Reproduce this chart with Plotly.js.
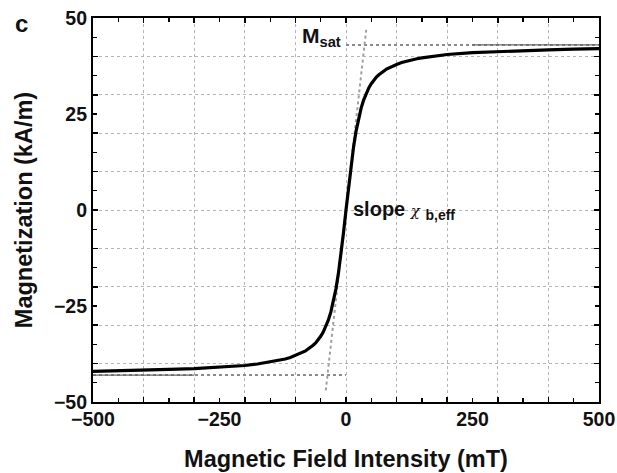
<!DOCTYPE html>
<html>
<head>
<meta charset="utf-8">
<script src="https://cdn.plot.ly/plotly-3.0.1.min.js"></script>
<style>html,body{margin:0;padding:0;background:#fff;}#chart{width:617px;height:473px;}</style>
</head>
<body>
<div id="chart"></div>
<script>
// Magnetization curve (H in mT, M in kA/m)
const fieldH = [-500,-450,-400,-350,-300,-250,-200,-175,-160,-150,-140,-125,-120,-110,-100,-90,-80,-75,-70,-65,-60,-55,-50,-45,-40,-35,-30,-25,-20,-15,-10,-5,0,
                5,10,15,20,25,30,35,40,45,50,55,60,65,70,75,80,90,100,110,120,125,140,150,160,175,200,250,300,350,400,450,500];
const magM = [-42.0,-41.9,-41.7,-41.5,-41.3,-41.0,-40.5,-40.1,-39.8,-39.6,-39.4,-38.9,-38.8,-38.4,-37.9,-37.4,-36.7,-36.2,-35.8,-35.2,-34.6,-33.8,-32.9,-31.8,-30.4,-28.7,-26.6,-24.0,-20.6,-16.5,-11.6,-6.0,0,
              6.0,11.6,16.5,20.6,24.0,26.6,28.7,30.4,31.8,32.9,33.8,34.6,35.2,35.8,36.2,36.7,37.4,37.9,38.4,38.8,38.9,39.4,39.6,39.8,40.1,40.5,41.0,41.3,41.5,41.7,41.9,42.0];
// Initial-slope guide line
const slopeH = [-40, 40];
const slopeM = [-47, 47];
// Saturation guide lines
const satLevel = 43;
const satUpperH = [0, 500];
const satLowerH = [-500, 0];
const satUpperDarkH = [250, 500];
const satLowerDarkH = [-500, -300];
// Axis ticks
const xTickVals = [-500, -250, 0, 250, 500];
const xTickText = ['\u2212500', '\u2212250', '0', '250', '500'];
const yTickVals = [-50, -25, 0, 25, 50];
const yTickText = ['\u221250', '\u221225', '0', '25', '50'];

const FONT = 'Liberation Sans, Arial, Helvetica, sans-serif';

const traces = [
  {x: satUpperH, y: satUpperH.map(() => satLevel), mode: 'lines', line: {color: '#8a8a8a', width: 2, dash: 'dot'}, hoverinfo: 'skip'},
  {x: satLowerH, y: satLowerH.map(() => -satLevel), mode: 'lines', line: {color: '#8a8a8a', width: 2, dash: 'dot'}, hoverinfo: 'skip'},
  {x: satUpperDarkH, y: satUpperDarkH.map(() => satLevel), mode: 'lines', line: {color: '#666', width: 1.2}, hoverinfo: 'skip'},
  {x: satLowerDarkH, y: satLowerDarkH.map(() => -satLevel), mode: 'lines', line: {color: '#666', width: 1.2}, hoverinfo: 'skip'},
  {x: slopeH, y: slopeM, mode: 'lines', line: {color: '#a0a0a0', width: 2, dash: 'dot'}, hoverinfo: 'skip'},
  {x: fieldH, y: magM, mode: 'lines', line: {color: '#000', width: 3.2, shape: 'linear'}},
  {x: [], y: [], xaxis: 'x2', yaxis: 'y2', mode: 'lines', hoverinfo: 'skip'}
];

const tickFont = {family: FONT, size: 19.5, color: '#111', weight: 'bold'};
const titleFont = {family: FONT, size: 23.5, color: '#111', weight: 'bold'};

const layout = {
  width: 617, height: 473,
  margin: {l: 93, r: 18, t: 18, b: 71},
  paper_bgcolor: '#fff', plot_bgcolor: '#fff',
  showlegend: false,
  xaxis: {
    range: [-500, 500], tickmode: 'linear', tick0: 0, dtick: 100,
    showgrid: true, gridcolor: '#b5b5b5', griddash: 'dot', gridwidth: 1,
    ticks: 'inside', ticklen: 5, tickwidth: 1.5, tickcolor: '#000',
    showticklabels: false, zeroline: false,
    showline: true, linecolor: '#000', linewidth: 2, mirror: 'allticks',
    minor: {dtick: 50, ticks: 'inside', ticklen: 4, tickwidth: 1.2, tickcolor: '#000', showgrid: false}
  },
  yaxis: {
    range: [-50, 50], tickmode: 'linear', tick0: 0, dtick: 10,
    showgrid: true, gridcolor: '#b5b5b5', griddash: 'dot', gridwidth: 1,
    ticks: 'inside', ticklen: 5, tickwidth: 1.5, tickcolor: '#000',
    showticklabels: false, zeroline: false,
    showline: true, linecolor: '#000', linewidth: 2, mirror: 'allticks',
    minor: {dtick: 5, ticks: 'inside', ticklen: 4, tickwidth: 1.2, tickcolor: '#000', showgrid: false}
  },
  xaxis2: {
    overlaying: 'x', anchor: 'y', side: 'bottom', range: [-500, 500],
    tickmode: 'array', tickvals: xTickVals, ticktext: xTickText,
    showgrid: false, zeroline: false, showline: false, ticks: '',
    tickfont: tickFont, ticklabelstandoff: 3,
    title: {text: 'Magnetic Field Intensity (mT)', font: titleFont, standoff: 22}
  },
  yaxis2: {
    overlaying: 'y', anchor: 'x', side: 'left', range: [-50, 50],
    tickmode: 'array', tickvals: yTickVals, ticktext: yTickText,
    showgrid: false, zeroline: false, showline: false, ticks: '',
    tickfont: tickFont, ticklabelstandoff: 5,
    title: {text: 'Magnetization (kA/m)', font: titleFont, standoff: 14}
  },
  annotations: [
    {xref: 'paper', yref: 'paper', x: -0.141, y: 0.985, xanchor: 'center', yanchor: 'middle',
     text: 'c', showarrow: false, font: {family: FONT, size: 24, color: '#111', weight: 'bold'}},
    {xref: 'x', yref: 'y', x: -90, y: 45, xanchor: 'left', yanchor: 'middle',
     text: 'M<sub>sat</sub>', showarrow: false, font: {family: FONT, size: 21, color: '#111', weight: 'bold'}},
    {xref: 'x', yref: 'y', x: 10, y: 0, xanchor: 'left', yanchor: 'middle',
     text: "slope <span style='font-family:DejaVu Serif;font-weight:normal;font-style:italic;font-size:15px'>\u03c7</span> <sub>b,eff</sub>",
     showarrow: false, font: {family: FONT, size: 20, color: '#111', weight: 'bold'}}
  ]
};

Plotly.newPlot('chart', traces, layout, {staticPlot: true, displayModeBar: false});
</script>
</body>
</html>
